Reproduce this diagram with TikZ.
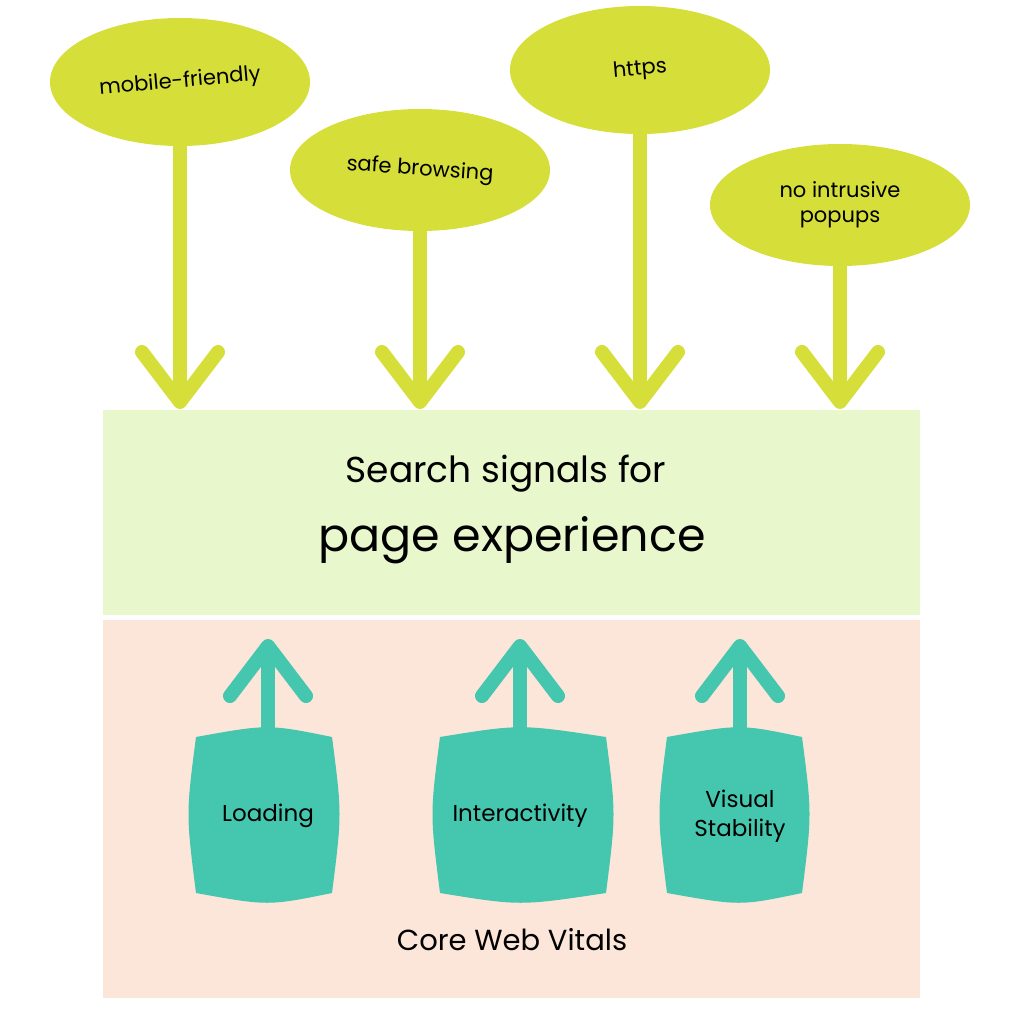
\documentclass[tikz,border=0pt]{standalone}
\usepackage{fontspec}
\setmainfont{Poppins}
\usetikzlibrary{shapes.geometric}
\definecolor{lime}{HTML}{D6DE3A}
\definecolor{teal}{HTML}{45C6AE}
\definecolor{pgreen}{HTML}{E8F8CC}
\definecolor{peach}{HTML}{FCE5D9}
\begin{document}
\begin{tikzpicture}[x=1pt,y=-1pt,
  oval/.style={ellipse,fill=lime,minimum width=260pt,minimum height=128pt,inner sep=0pt,align=center,font=\fontsize{21}{25}\selectfont},
  downarr/.style={draw=lime,line width=14pt},
  uparr/.style={draw=teal,line width=14pt},
  lbl/.style={font=\fontsize{23}{29}\selectfont,align=center}]
\useasboundingbox (0,0) rectangle (1024,1024);
\fill[pgreen] (103,410) rectangle (920,615);
\fill[peach] (103,620) rectangle (920,998);
\node[oval] (m) at (180,82) {\rotatebox{5}{mobile-friendly}};
\node[oval,minimum height=122pt] (s) at (420,170) {\rotatebox{-4}{safe browsing}};
\node[oval] (h) at (640,70) {\rotatebox{5}{https}};
\node[oval,minimum height=122pt] (n) at (840,205) {no intrusive\\popups};
\foreach \e/\x in {m/180,s/420,h/640,n/840}{
  \coordinate (\e t) at (\x,402);
  \draw[downarr] (\e.south) -- (\e t);
  \draw[downarr,line join=round,line cap=round] (\x-38,352) -- (\e t) -- (\x+38,352);
}
\node[font=\fontsize{36}{40}\selectfont] (t1) at (506,474) {Search signals for};
\node[font=\fontsize{46}{50}\selectfont] (t2) at (512,540) {page experience};
\foreach \k/\a/\b/\c/\txt in {l/196/332/268/Loading,i/440/606/520/Interactivity,v/667/802/740/{Visual\\Stability}}{
  \fill[teal] (\a,737) .. controls (\c,724) .. (\b,737)
     .. controls (\b+10,814) .. (\b,893) .. controls (\c,906) .. (\a,893)
     .. controls (\a-10,814) .. (\a,737) -- cycle;
  \node[lbl] (\k) at (\c,816) {\txt};
  \coordinate (\k b) at (\c,740);
  \coordinate (\k t) at (\c,646);
  \draw[uparr] (\k b) -- (\k t);
  \draw[uparr,line join=round,line cap=round] (\c-38,696) -- (\k t) -- (\c+38,696);
}
\node[font=\fontsize{29}{33}\selectfont] (cwv) at (512,940) {Core Web Vitals};
\end{tikzpicture}
\end{document}
